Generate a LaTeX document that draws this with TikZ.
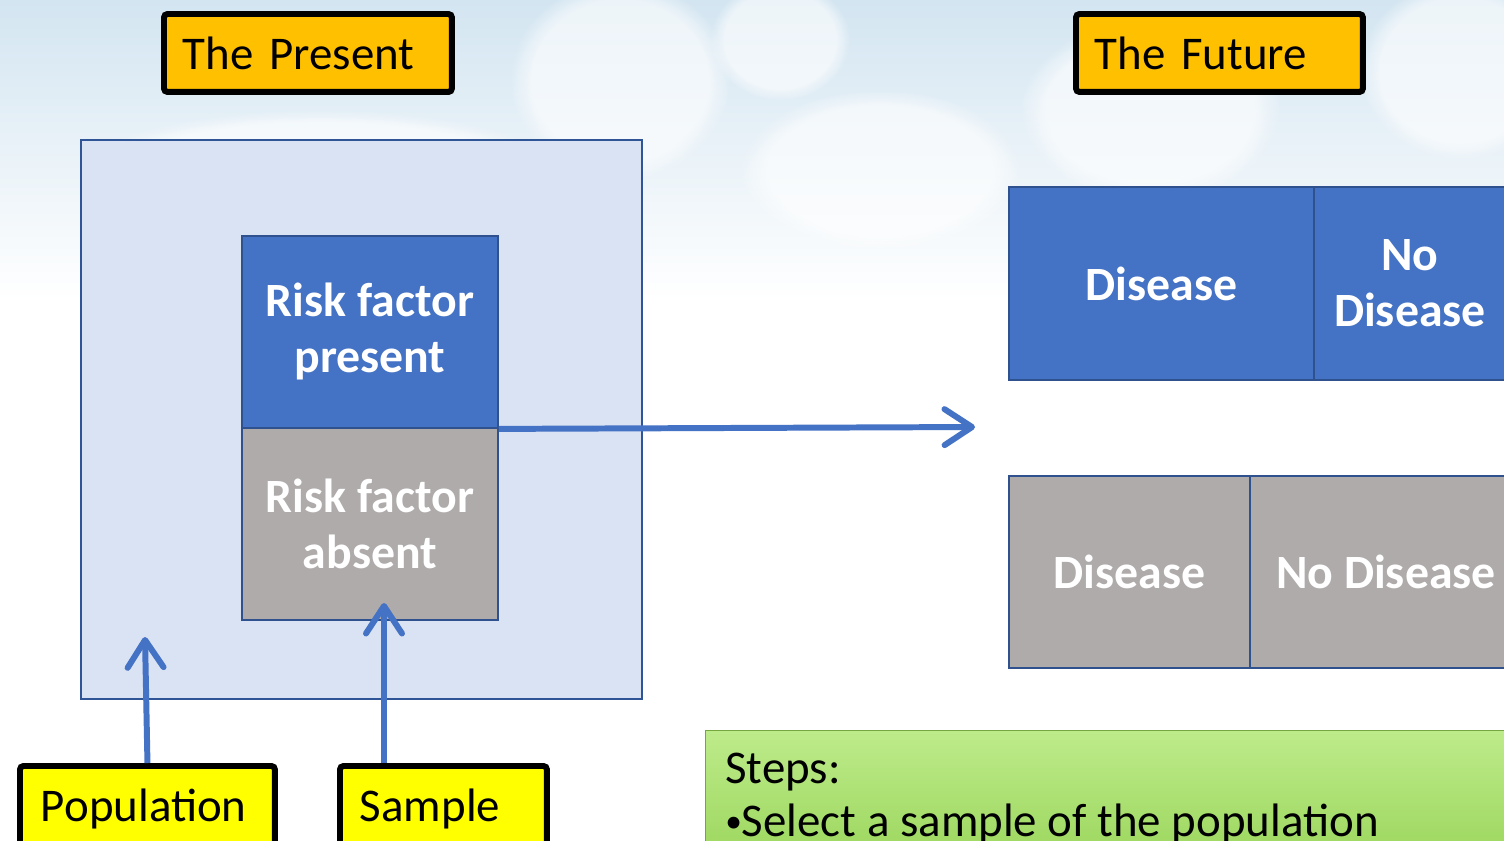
\documentclass[tikz,border=0pt]{standalone}
\usepackage{fontspec}
\setmainfont{Carlito}
\usetikzlibrary{arrows.meta,fadings}
\definecolor{sky}{HTML}{D3E5F1}
\definecolor{labelorange}{HTML}{FFC000}
\definecolor{labelyellow}{HTML}{FFFF00}
\definecolor{popfill}{HTML}{DAE3F3}
\definecolor{popborder}{HTML}{2F5597}
\definecolor{boxblue}{HTML}{4472C4}
\definecolor{boxborder}{HTML}{2F528F}
\definecolor{boxgray}{HTML}{AFABAB}
\definecolor{greentop}{HTML}{BDEB8A}
\definecolor{greenbot}{HTML}{92D050}
\newcommand\lblfont{\fontsize{26.7}{32}\selectfont}
\newcommand\boxfont{\fontsize{27.2}{31.9}\selectfont\bfseries}
\tikzset{
  labelbox/.style={draw=black, line width=3.4pt, rounded corners=2pt, inner ysep=0pt,
    anchor=north west, font=\lblfont, text=black, align=left},
  bluebox/.style={draw=boxborder, line width=1.1pt, fill=boxblue, inner sep=0pt,
    anchor=north west, font=\boxfont, text=white, align=center},
  graybox/.style={bluebox, fill=boxgray},
  conn/.style={draw=boxblue, line width=3.4pt,
    -{Straight Barb[round,length=0.55cm,width=0.72cm]}},
  skycloud/.style={fill=white, path fading=circle with fuzzy edge 20 percent, fill opacity=0.6}
}
\begin{document}
\begin{tikzpicture}[x=0.02cm,y=-0.02cm]
\useasboundingbox (0,0) rectangle (1504,840);
\clip (0,0) rectangle (1504,840);
% sky background
\fill[white] (0,0) rectangle (1504,840);
\fill[top color=sky, bottom color=white] (0,0) rectangle (1504,300);
\fill[skycloud] (620,80) ellipse (110 and 100);
\fill[skycloud] (780,40) ellipse (70 and 60);
\fill[skycloud] (880,170) ellipse (140 and 80);
\fill[skycloud] (1150,110) ellipse (130 and 90);
\fill[skycloud] (1460,70) ellipse (100 and 90);
\fill[skycloud] (320,170) ellipse (240 and 60);

% labels
\node[labelbox, fill=labelorange, minimum height=1.56cm, text width=5cm, inner xsep=0.38cm] (present) at (161,11) {The Present};
\node[labelbox, fill=labelorange, minimum height=1.56cm, text width=4.98cm, inner xsep=0.38cm] (future) at (1073,11) {The Future};

% population box
\node[draw=popborder, line width=1.1pt, fill=popfill, inner sep=0pt, anchor=north west,
      minimum width=11.22cm, minimum height=11.18cm] (population) at (80,139) {};
\node[bluebox, minimum width=5.12cm, minimum height=3.84cm] (rfp) at (241,235) {Risk factor\\present};
\node[graybox, minimum width=5.12cm, minimum height=3.84cm] (rfa) at (241,427) {Risk factor\\absent};

% future boxes
\node[bluebox, minimum width=6.10cm, minimum height=3.86cm] (fd1) at (1008,186) {Disease};
\node[bluebox, minimum width=3.84cm, minimum height=3.86cm] (fn1) at (1313,186) {No\\Disease};
\node[graybox, minimum width=4.82cm, minimum height=3.84cm] (fd2) at (1008,475) {Disease};
\node[graybox, minimum width=5.44cm, minimum height=3.84cm] (fn2) at (1249,475) {No Disease};

% bottom labels
\node[labelbox, fill=labelyellow, minimum height=1.72cm, text width=4.26cm, inner xsep=0.42cm] (poplabel) at (17,763) {Population};
\node[labelbox, fill=labelyellow, minimum height=1.72cm, text width=3.34cm, inner xsep=0.40cm] (samplabel) at (337,763) {Sample};

% steps box
\node[inner sep=0pt, draw=greenbot!80!black, line width=0.6pt, top color=greentop, bottom color=greenbot,
      anchor=north west, minimum width=16.6cm, minimum height=3.4cm] (steps) at (705,730) {};
\node[anchor=north west, inner sep=0pt, font=\fontsize{26.7}{30}\selectfont, align=left, text=black]
  (stepstext) at (725,753) {Steps:\\\raisebox{0.08em}{\fontsize{19}{19}\selectfont\textbullet}Select a sample of the population};

% connectors
\coordinate (futtip) at (975,427);
\coordinate (poptip) at (145,637);
\coordinate (samptip) at (384,603);
\draw[conn] (rfp.south east) -- (futtip);
\draw[conn] (poplabel.north) -- (poptip);
\draw[conn] (samplabel.north -| samptip) -- (samptip);
\end{tikzpicture}
\end{document}
